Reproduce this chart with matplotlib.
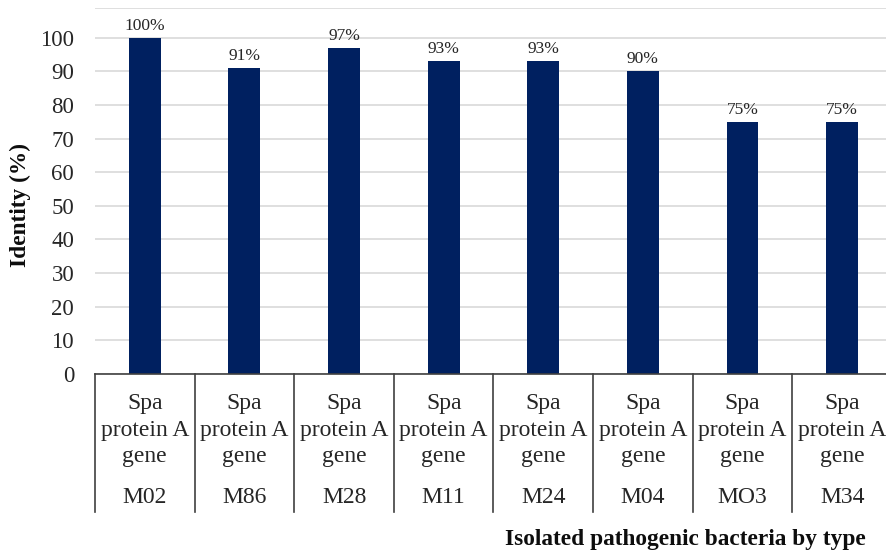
import matplotlib
matplotlib.use("Agg")
import matplotlib.pyplot as plt
from matplotlib.transforms import blended_transform_factory

isolates = ["M02", "M86", "M28", "M11", "M24", "M04", "MO3", "M34"]
gene_label = "Spa\nprotein A\ngene"
identity = [100, 91, 97, 93, 93, 90, 75, 75]
y_ticks = [0, 10, 20, 30, 40, 50, 60, 70, 80, 90, 100]

serif = ["Liberation Serif", "DejaVu Serif"]
bar_color = "#002060"
grid_color = "#d9d9d9"
line_color = "#404040"

fig = plt.figure(figsize=(8.87, 5.57), dpi=100)
ax = fig.add_axes([0.1071, 0.3285, 0.8985, 0.657])

x = list(range(len(isolates)))
bars = ax.bar(x, identity, width=0.32, color=bar_color, zorder=3)

ax.set_xlim(-0.5, len(isolates) - 0.5)
ax.set_ylim(0, 108.8)
ax.set_yticks(y_ticks)
ax.set_yticklabels([str(v) for v in y_ticks], fontfamily=serif, fontsize=16.5, color="#262626")
ax.tick_params(axis="y", length=0, pad=15)
ax.set_xticks([])

ax.grid(axis="y", color=grid_color, linewidth=1.2, zorder=0)
ax.axhline(108.8, color=grid_color, linewidth=1.2, zorder=0)
for s in ["left", "right", "top"]:
    ax.spines[s].set_visible(False)
ax.spines["bottom"].set_color(line_color)
ax.spines["bottom"].set_linewidth(1.2)
ax.spines["bottom"].set_zorder(4)

for b, v in zip(bars, identity):
    ax.annotate(f"{v}%", (b.get_x() + b.get_width() / 2, v), xytext=(0, 3),
                textcoords="offset points", ha="center", va="bottom",
                fontfamily=serif, fontsize=12.5, color="#262626")

# multi-level category axis below the plot
trans = blended_transform_factory(ax.transData, ax.transAxes)
axis_h = 366.0  # axes height in pixels
for xi in [i - 0.5 for i in range(len(isolates) + 1)]:
    ax.plot([xi, xi], [0, -(512 - 374) / axis_h], transform=trans,
            color=line_color, linewidth=1.2, clip_on=False)
for xi, name in zip(x, isolates):
    ax.text(xi, -(430 - 374) / axis_h, gene_label, transform=trans,
            ha="center", va="center", fontfamily=serif, fontsize=17,
            linespacing=1.33, color="#262626")
    ax.text(xi, -(497 - 374) / axis_h, name, transform=trans,
            ha="center", va="center", fontfamily=serif, fontsize=17,
            color="#262626")

fig.text(866 / 887, 1 - 540 / 557, "Isolated pathogenic bacteria by type",
         ha="right", va="center", fontfamily=serif, fontsize=16.8,
         fontweight="bold", color="#0d0d0d")
fig.text(20 / 887, 1 - 205 / 557, "Identity (%)", rotation=90,
         ha="center", va="center", fontfamily=serif, fontsize=16.8,
         fontweight="bold", color="#0d0d0d")

fig.savefig("out.png", dpi=100)
